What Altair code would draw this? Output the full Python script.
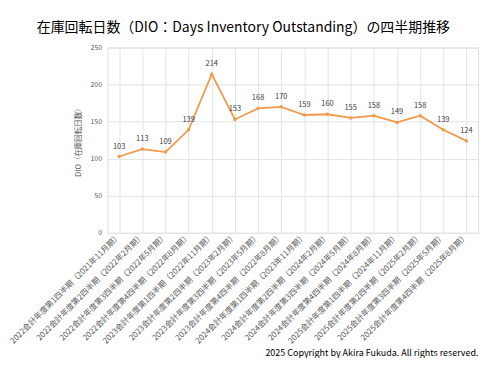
import altair as alt
import pandas as pd

periods = [
    "2022会計年度第1四半期（2021年11月期）",
    "2022会計年度第2四半期（2022年2月期）",
    "2022会計年度第3四半期（2022年5月期）",
    "2022会計年度第4四半期（2022年8月期）",
    "2023会計年度第1四半期（2022年11月期）",
    "2023会計年度第2四半期（2023年2月期）",
    "2023会計年度第3四半期（2023年5月期）",
    "2023会計年度第4四半期（2022年8月期）",
    "2024会計年度第1四半期（2023年11月期）",
    "2024会計年度第2四半期（2024年2月期）",
    "2024会計年度第3四半期（2024年5月期）",
    "2024会計年度第4四半期（2024年8月期）",
    "2025会計年度第1四半期（2024年11月期）",
    "2025会計年度第2四半期（2025年2月期）",
    "2025会計年度第3四半期（2025年5月期）",
    "2025会計年度第4四半期（2025年8月期）",
]
dio = [103, 113, 109, 139, 214, 153, 168, 170, 159, 160, 155, 158, 149, 158, 139, 124]
y_ticks = [0, 50, 100, 150, 200, 250]

df = pd.DataFrame({"period": periods, "dio": dio})

FONT = "Noto Sans CJK JP"
LINE = "#F09A4A"

x = alt.X(
    "period:N",
    sort=periods,
    scale=alt.Scale(paddingInner=0, paddingOuter=0),
    axis=alt.Axis(
        title="2025 Copyright by Akira Fukuda. All rights reserved.",
        titleAnchor="end",
        titleFontSize=9,
        titleFontWeight="normal",
        titleColor="#000000",
        titleFont=FONT,
        titlePadding=3,
        labelAngle=-45,
        labelAlign="right",
        labelBaseline="middle",
        labelFontSize=8,
        labelColor="#595959",
        labelFont=FONT,
        labelPadding=2,
        labelOverlap=False,
        labelLimit=300,
        ticks=False,
        domain=False,
        grid=True,
        gridColor="#e4e4e4",
        bandPosition=0,
    ),
)
y = alt.Y(
    "dio:Q",
    scale=alt.Scale(domain=[0, 250], nice=False),
    axis=alt.Axis(
        title="DIO（在庫回転日数）",
        titleFontSize=7.5,
        titleFontWeight="normal",
        titleColor="#595959",
        titleFont=FONT,
        titlePadding=8,
        values=y_ticks,
        labelFontSize=7,
        labelColor="#595959",
        labelFont=FONT,
        labelPadding=6,
        labelOverlap=False,
        ticks=False,
        domain=False,
        gridColor="#e4e4e4",
    ),
)

base = alt.Chart(df).encode(x=x, y=y)

line = base.mark_line(
    color=LINE, strokeWidth=1.8, point=alt.OverlayMarkDef(color=LINE, size=12, filled=True)
)

labels = base.mark_text(
    dy=-10, fontSize=7.5, color="#404040", font=FONT
).encode(text="dio:Q")

chart = (
    alt.layer(line, labels)
    .properties(
        width=372,
        height=186,
        title=alt.TitleParams(
            "在庫回転日数（DIO：Days Inventory Outstanding）の四半期推移",
            fontSize=14,
            font=FONT,
            fontWeight="normal",
            color="#000000",
            anchor="middle",
            frame="bounds",
            offset=9,
        ),
        padding={"left": 0, "top": 12, "right": 4, "bottom": 0},
    )
    .configure_view(stroke="#e4e4e4")
    .configure(background="white")
)

chart.save("out.html", embed_options={"renderer": "svg", "actions": False})
